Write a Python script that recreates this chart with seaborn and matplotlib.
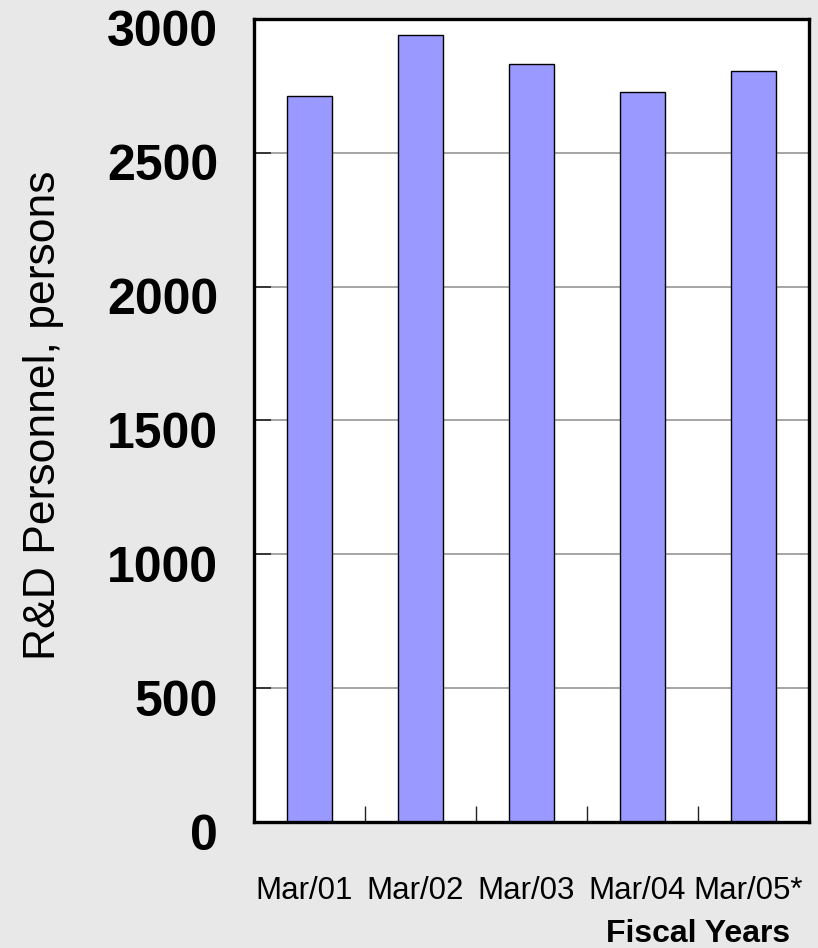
import matplotlib
matplotlib.use("Agg")
import matplotlib.pyplot as plt
import matplotlib.transforms as mtransforms
import numpy as np
import pandas as pd
import seaborn as sns

# R&D headcount at fiscal year end
years = ["Mar/01", "Mar/02", "Mar/03", "Mar/04", "Mar/05*"]
personnel = [2713, 2941, 2830, 2729, 2804]
y_ticks = [0, 500, 1000, 1500, 2000, 2500, 3000]

sns.set_theme(style="white")
plt.rcParams["font.family"] = ["Liberation Sans", "DejaVu Sans"]
plt.rcParams["text.color"] = "black"
plt.rcParams["xtick.color"] = "black"
plt.rcParams["ytick.color"] = "black"
plt.rcParams["xtick.labelcolor"] = "black"
plt.rcParams["ytick.labelcolor"] = "black"

bg = "#E8E8E8"
fig = plt.figure(figsize=(8.18, 9.48), dpi=100, facecolor=bg)
ax = fig.add_axes([0.3105, 0.1329, 0.6785, 0.8471])
ax.set_facecolor("white")

df = pd.DataFrame({"year": years, "personnel": personnel})
sns.barplot(data=df, x="year", y="personnel", color="#9999FF", saturation=1,
            edgecolor="black", linewidth=1.0, width=0.4, ax=ax, zorder=3)

ax.set_xlim(-0.5, len(years) - 0.5)
ax.set_ylim(0, 3000)

# horizontal grid
ax.set_yticks(y_ticks)
ax.yaxis.grid(True, color="#969696", linewidth=1.2, zorder=0)
ax.set_axisbelow(True)

# spines
for s in ax.spines.values():
    s.set_visible(True)
    s.set_color("black")
    s.set_linewidth(2.4)
    s.set_zorder(5)

# y tick labels
ax.set_yticklabels([str(v) for v in y_ticks], fontsize=36, fontweight="bold",
                   color="black")
ax.tick_params(axis="y", direction="in", length=12, width=1.2, color="#222222",
               pad=26, left=True)
offset = mtransforms.ScaledTranslation(0, -9.5 / 100, fig.dpi_scale_trans)
for lab in ax.get_yticklabels():
    lab.set_transform(lab.get_transform() + offset)

# category separators at the bottom, ticks pointing inward
ax.set_xticks(np.arange(len(years) - 1) + 0.5)
ax.set_xticklabels([])
ax.tick_params(axis="x", direction="in", length=11.5, width=1.0, color="#222222",
               bottom=True)
ax.set_xlabel("")
ax.set_ylabel("")

# year labels below each bar
trans = mtransforms.blended_transform_factory(ax.transData, ax.transAxes)
shift = mtransforms.ScaledTranslation(-5 / 100, 0, fig.dpi_scale_trans)
for i, name in enumerate(years):
    ax.text(i, -0.0959, name, transform=trans + shift, ha="center",
            va="baseline", fontsize=22.5, color="black")

fig.text(0.9658, 1 - 942 / 948, "Fiscal Years", ha="right", va="baseline",
         fontsize=23, fontweight="bold", color="black")

fig.text(0.053, 0.562, "R&D Personnel, persons", rotation=90, ha="center",
         va="center", fontsize=32, color="black")

fig.savefig("out.png", dpi=100, facecolor=bg)
